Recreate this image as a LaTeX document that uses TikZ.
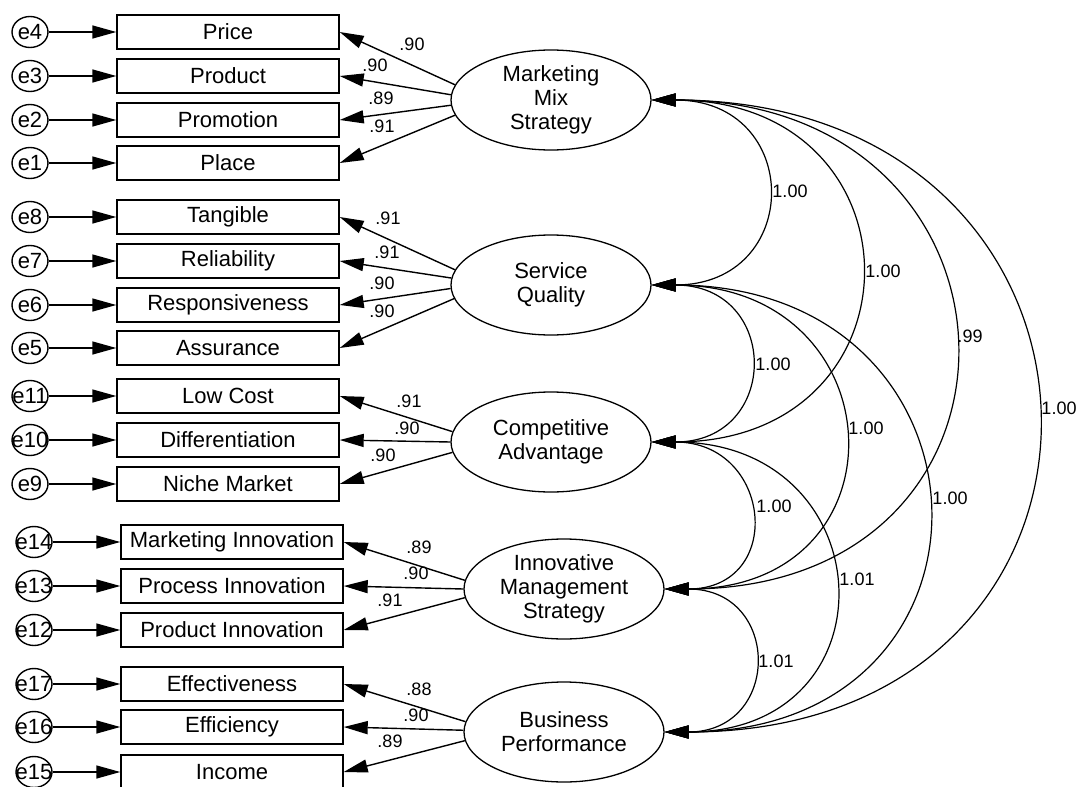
\documentclass[tikz,border=0pt]{standalone}
\usepackage{fontspec}
\setmainfont{Liberation Sans}
\usetikzlibrary{arrows.meta,shapes.geometric}
\tikzset{
  err node/.style={ellipse,draw,line width=1.4pt,minimum width=36pt,minimum height=31pt,inner sep=0pt,font=\fontsize{22}{24}\selectfont},
  item node/.style={rectangle,draw,line width=1.4pt,minimum width=222pt,minimum height=34pt,inner sep=0pt,font=\fontsize{22}{24}\selectfont},
  factor node/.style={ellipse,draw,line width=1.3pt,minimum width=200pt,minimum height=100pt,inner sep=0pt,align=center,font=\fontsize{22}{24}\selectfont},
  load edge/.style={-{Triangle[length=24pt,width=13pt]},line width=1.4pt},
  cov edge/.style={{Triangle[length=24pt,width=13pt]}-{Triangle[length=24pt,width=13pt]},line width=1.2pt},
  coef/.style={inner sep=0pt,font=\fontsize{18}{18}\selectfont},
}
\newcommand{\errtext}[1]{\makebox[0pt]{#1}}

\begin{document}
\begin{tikzpicture}[x=1pt,y=-1pt]
  \useasboundingbox (0,0) rectangle (1077,787);
  % indicators
  \node[item node] (price) at (228,32) {Price};
  \node[item node] (product) at (228,76) {Product};
  \node[item node] (promotion) at (228,120) {Promotion};
  \node[item node] (place) at (228,163) {Place};
  \node[item node] (tangible) at (228,217) {Tangible};
  \node[item node] (reliab) at (228,261) {Reliability};
  \node[item node] (respons) at (228,305) {Responsiveness};
  \node[item node] (assur) at (228,348) {Assurance};
  \node[item node] (lowcost) at (228,396) {Low Cost};
  \node[item node] (diff) at (228,440) {Differentiation};
  \node[item node] (niche) at (228,484) {Niche Market};
  \node[item node] (mktinn) at (232,542) {Marketing Innovation};
  \node[item node] (procinn) at (232,586) {Process Innovation};
  \node[item node] (prodinn) at (232,630) {Product Innovation};
  \node[item node] (effect) at (232,684) {Effectiveness};
  \node[item node] (effic) at (232,727) {Efficiency};
  \node[item node] (income) at (232,772) {Income};
  % error terms
  \node[err node] (e4) at (30,32) {\errtext{e4}};
  \node[err node] (e3) at (30,76) {\errtext{e3}};
  \node[err node] (e2) at (30,120) {\errtext{e2}};
  \node[err node] (e1) at (30,163) {\errtext{e1}};
  \node[err node] (e8) at (30,217) {\errtext{e8}};
  \node[err node] (e7) at (30,261) {\errtext{e7}};
  \node[err node] (e6) at (30,305) {\errtext{e6}};
  \node[err node] (e5) at (30,348) {\errtext{e5}};
  \node[err node] (e11) at (30,396) {\errtext{e11}};
  \node[err node] (e10) at (30,440) {\errtext{e10}};
  \node[err node] (e9) at (30,484) {\errtext{e9}};
  \node[err node] (e14) at (34,542) {\errtext{e14}};
  \node[err node] (e13) at (34,586) {\errtext{e13}};
  \node[err node] (e12) at (34,630) {\errtext{e12}};
  \node[err node] (e17) at (34,684) {\errtext{e17}};
  \node[err node] (e16) at (34,727) {\errtext{e16}};
  \node[err node] (e15) at (34,772) {\errtext{e15}};
  \draw[load edge] (e4) -- (price);
  \draw[load edge] (e3) -- (product);
  \draw[load edge] (e2) -- (promotion);
  \draw[load edge] (e1) -- (place);
  \draw[load edge] (e8) -- (tangible);
  \draw[load edge] (e7) -- (reliab);
  \draw[load edge] (e6) -- (respons);
  \draw[load edge] (e5) -- (assur);
  \draw[load edge] (e11) -- (lowcost);
  \draw[load edge] (e10) -- (diff);
  \draw[load edge] (e9) -- (niche);
  \draw[load edge] (e14) -- (mktinn);
  \draw[load edge] (e13) -- (procinn);
  \draw[load edge] (e12) -- (prodinn);
  \draw[load edge] (e17) -- (effect);
  \draw[load edge] (e16) -- (effic);
  \draw[load edge] (e15) -- (income);
  % latent factors
  \node[factor node] (mms) at (551,100) {Marketing\\Mix\\Strategy};
  \node[factor node] (sq) at (551,285) {Service\\Quality};
  \node[factor node] (ca) at (551,442) {Competitive\\Advantage};
  \node[factor node] (ims) at (564,589) {Innovative\\Management\\Strategy};
  \node[factor node] (bp) at (564,732) {Business\\Performance};
  % loadings
  \draw[load edge] (mms.171) -- (price.east);
  \draw[load edge] (mms.177) -- (product.east);
  \draw[load edge] (mms.183) -- (promotion.east);
  \draw[load edge] (mms.189) -- (place.east);
  \draw[load edge] (sq.171) -- (tangible.east);
  \draw[load edge] (sq.176) -- (reliab.east);
  \draw[load edge] (sq.182) -- (respons.east);
  \draw[load edge] (sq.188) -- (assur.east);
  \draw[load edge] (ca.174) -- (lowcost.east);
  \draw[load edge] (ca.180) -- (diff.east);
  \draw[load edge] (ca.186) -- (niche.east);
  \draw[load edge] (ims.175) -- (mktinn.east);
  \draw[load edge] (ims.180) -- (procinn.east);
  \draw[load edge] (ims.185) -- (prodinn.east);
  \draw[load edge] (bp.174) -- (effect.east);
  \draw[load edge] (bp.179) -- (effic.east);
  \draw[load edge] (bp.185) -- (income.east);
  \node[coef] (l1) at (412,44) {.90};
  \node[coef] (l2) at (375,65) {.90};
  \node[coef] (l3) at (381,98) {.89};
  \node[coef] (l4) at (382,126) {.91};
  \node[coef] (l5) at (388,218) {.91};
  \node[coef] (l6) at (387,252) {.91};
  \node[coef] (l7) at (382,283) {.90};
  \node[coef] (l8) at (382,311) {.90};
  \node[coef] (l9) at (409,401) {.91};
  \node[coef] (l10) at (407,428) {.90};
  \node[coef] (l11) at (383,455) {.90};
  \node[coef] (l12) at (419,547) {.89};
  \node[coef] (l13) at (416,573) {.90};
  \node[coef] (l14) at (390,600) {.91};
  \node[coef] (l15) at (419,689) {.88};
  \node[coef] (l16) at (416,715) {.90};
  \node[coef] (l17) at (390,741) {.89};
  % covariances
  \draw[cov edge] (mms.east) .. controls +(152,0) and +(152,0) .. (sq.east);
  \draw[cov edge] (mms.east) .. controls +(276,0) and +(276,0) .. (ca.east);
  \draw[cov edge] (mms.east) .. controls +(393,0) and +(393,0) .. (ims.east);
  \draw[cov edge] (mms.east) .. controls +(503,0) and +(503,0) .. (bp.east);
  \draw[cov edge] (sq.east) .. controls +(129,0) and +(129,0) .. (ca.east);
  \draw[cov edge] (sq.east) .. controls +(246,0) and +(246,0) .. (ims.east);
  \draw[cov edge] (sq.east) .. controls +(357,0) and +(357,0) .. (bp.east);
  \draw[cov edge] (ca.east) .. controls +(121,0) and +(121,0) .. (ims.east);
  \draw[cov edge] (ca.east) .. controls +(233,0) and +(233,0) .. (bp.east);
  \draw[cov edge] (ims.east) .. controls +(117,0) and +(117,0) .. (bp.east);
  \node[coef] (c1) at (790,191) {1.00};
  \node[coef] (c2) at (883,271) {1.00};
  \node[coef] (c3) at (970,336) {.99};
  \node[coef] (c4) at (1059,408) {1.00};
  \node[coef] (c5) at (773,364) {1.00};
  \node[coef] (c6) at (866,428) {1.00};
  \node[coef] (c7) at (950,498) {1.00};
  \node[coef] (c8) at (774,506) {1.00};
  \node[coef] (c9) at (857,579) {1.01};
  \node[coef] (c10) at (776,661) {1.01};
\end{tikzpicture}
\end{document}
